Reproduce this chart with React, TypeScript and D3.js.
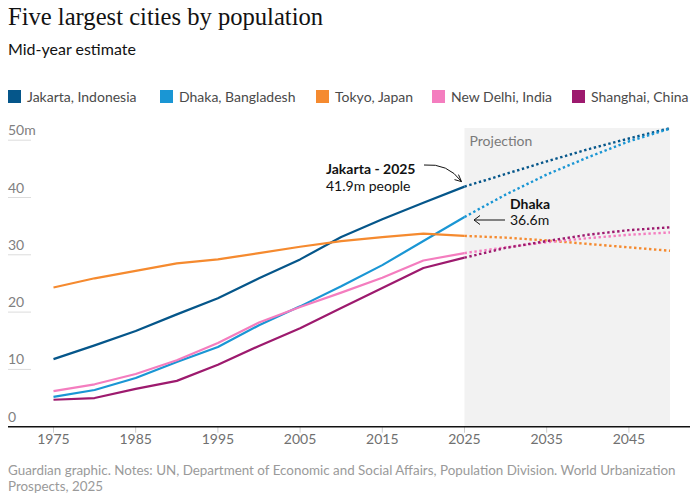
import React from "react";
import * as d3 from "d3";

// Population in millions, mid-year, every five years
const years = [1975, 1980, 1985, 1990, 1995, 2000, 2005, 2010, 2015, 2020, 2025, 2030, 2035, 2040, 2045, 2050];
const jakarta = [11.8, 14.2, 16.7, 19.6, 22.4, 25.9, 29.2, 33.1, 36.2, 39.1, 41.9, 44.1, 46.3, 48.4, 50.3, 52.1];
const dhaka = [5.2, 6.4, 8.5, 11.3, 13.9, 17.7, 21.0, 24.5, 28.2, 32.4, 36.6, 40.5, 44.0, 47.0, 49.8, 52.0];
const tokyo = [24.3, 25.9, 27.2, 28.5, 29.2, 30.3, 31.4, 32.4, 33.1, 33.7, 33.3, 33.0, 32.5, 31.9, 31.3, 30.7];
const newDelhi = [6.2, 7.4, 9.2, 11.6, 14.6, 18.2, 20.9, 23.4, 26.0, 29.0, 30.3, 31.3, 32.2, 32.9, 33.5, 33.9];
const shanghai = [4.7, 5.0, 6.6, 8.0, 10.8, 14.1, 17.2, 20.7, 24.2, 27.7, 29.5, 31.2, 32.4, 33.5, 34.3, 34.8];

const seriesNames = ["Jakarta, Indonesia", "Dhaka, Bangladesh", "Tokyo, Japan", "New Delhi, India", "Shanghai, China"];
const seriesValues = [jakarta, dhaka, tokyo, newDelhi, shanghai];
const seriesColors = ["#05568a", "#1a96d4", "#f58a2f", "#f47dbf", "#9d1a6e"];

const yTicks = [0, 10, 20, 30, 40, 50];
const xTicks = [1975, 1985, 1995, 2005, 2015, 2025, 2035, 2045];
const projectionStart = 2025;

const W = 696;
const H = 499;
const sans = "Lato, 'Open Sans', sans-serif";

export default function App() {
  const x = d3.scaleLinear().domain([1975, 2050]).range([53.5, 670]);
  const y = d3.scaleLinear().domain([0, 50]).range([426.7, 140.2]);

  const line = d3
    .line<[number, number]>()
    .x((d) => x(d[0]))
    .y((d) => y(d[1]));

  const legendX = [8, 160, 316, 432, 572];

  return (
    <svg width={W} height={H} style={{ position: "absolute", left: 0, top: 0, background: "#fff" }}>
      {/* Title block */}
      <text x={8} y={25} fontFamily="'Liberation Serif', 'DejaVu Serif', serif" fontSize={24.6} fill="#121212">
        Five largest cities by population
      </text>
      <text x={8} y={55} fontFamily={sans} fontSize={16} fill="#121212">
        Mid-year estimate
      </text>

      {/* Legend */}
      {seriesNames.map((name, i) => (
        <g key={name} transform={`translate(${legendX[i]},90)`}>
          <rect x={0} y={0} width={13} height={13} fill={seriesColors[i]} />
          <text x={19} y={12} fontFamily={sans} fontSize={14} fill="#4a4a4a">
            {name}
          </text>
        </g>
      ))}

      {/* Projection band */}
      <rect x={x(projectionStart)} y={128} width={x(2050) - x(projectionStart)} height={y(0) - 128} fill="#f2f2f2" />
      <text x={x(projectionStart) + 5} y={146} fontFamily={sans} fontSize={14} fill="#7a7a7a">
        Projection
      </text>

      {/* Y axis labels and short grid marks */}
      {yTicks.map((t) => (
        <g key={t}>
          {t > 0 && <line x1={8} x2={31} y1={y(t)} y2={y(t)} stroke="#dcdcdc" strokeWidth={1} />}
          <text x={8} y={y(t) - 5} fontFamily={sans} fontSize={14} fill="#808080">
            {t === 50 ? "50m" : t}
          </text>
        </g>
      ))}

      {/* X axis */}
      {xTicks.map((t) => (
        <g key={t}>
          <line x1={x(t)} x2={x(t)} y1={y(0)} y2={y(0) + 6} stroke="#cccccc" strokeWidth={1} />
          <text x={x(t)} y={444} textAnchor="middle" fontFamily={sans} fontSize={14} fill="#707070">
            {t}
          </text>
        </g>
      ))}

      {/* Series: solid for estimates, dotted for projections */}
      {seriesValues.map((vals, i) => {
        const pts: [number, number][] = years.map((yr, j) => [yr, vals[j]]);
        const past = pts.filter((p) => p[0] <= projectionStart);
        const future = pts.filter((p) => p[0] >= projectionStart);
        return (
          <g key={seriesNames[i]}>
            <path d={line(past) ?? ""} fill="none" stroke={seriesColors[i]} strokeWidth={2.2} strokeLinejoin="round" />
            <path
              d={line(future) ?? ""}
              fill="none"
              stroke={seriesColors[i]}
              strokeWidth={2.4}
              strokeDasharray="2.4 2.6"
            />
          </g>
        );
      })}

      <line x1={8} x2={690} y1={y(0)} y2={y(0)} stroke="#121212" strokeWidth={1.5} />

      {/* Annotations */}
      <text x={326} y={174} fontFamily={sans} fontSize={14} fontWeight={700} fill="#121212">
        Jakarta - 2025
      </text>
      <text x={326} y={191} fontFamily={sans} fontSize={14} fill="#121212">
        41.9m people
      </text>
      <path
        d={`M${424},${165} Q${448},${163} ${x(2025) - 3},${y(41.9) - 5}`}
        fill="none"
        stroke="#121212"
        strokeWidth={1}
      />
      <path
        d={`M${x(2025) - 10},${y(41.9) - 7} L${x(2025) - 3},${y(41.9) - 5} L${x(2025) - 6},${y(41.9) - 12}`}
        fill="none"
        stroke="#121212"
        strokeWidth={1}
      />

      <text x={510} y={209} fontFamily={sans} fontSize={14} fontWeight={700} fill="#121212">
        Dhaka
      </text>
      <text x={510} y={225} fontFamily={sans} fontSize={14} fill="#121212">
        36.6m
      </text>
      <line x1={474} x2={505} y1={220} y2={220} stroke="#121212" strokeWidth={1} />
      <path d="M480,215.5 L474,220 L480,224.5" fill="none" stroke="#121212" strokeWidth={1} />

      {/* Source */}
      <text x={8} y={475} fontFamily={sans} fontSize={13.4} fill="#9a9a9a">
        Guardian graphic. Notes: UN, Department of Economic and Social Affairs, Population Division. World Urbanization
      </text>
      <text x={8} y={491} fontFamily={sans} fontSize={13.4} fill="#9a9a9a">
        Prospects, 2025
      </text>
    </svg>
  );
}
